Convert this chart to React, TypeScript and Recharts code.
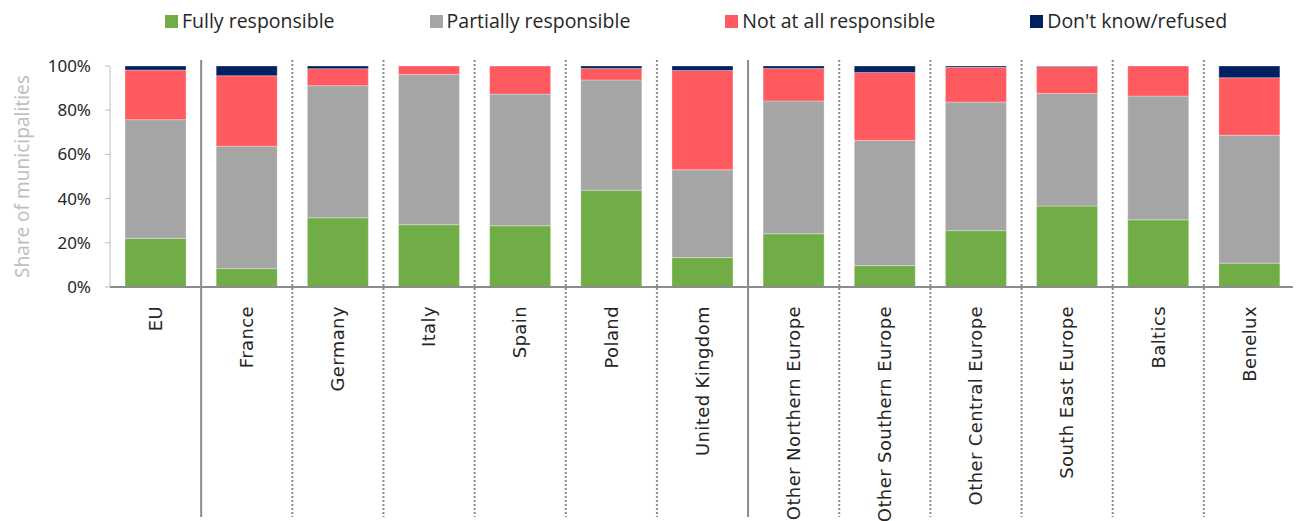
import { BarChart, Bar, XAxis, YAxis, Legend } from "recharts";

const regions = [
  "EU",
  "France",
  "Germany",
  "Italy",
  "Spain",
  "Poland",
  "United Kingdom",
  "Other Northern Europe",
  "Other Southern Europe",
  "Other Central Europe",
  "South East Europe",
  "Baltics",
  "Benelux",
];

const fully = [22, 8.3, 31.3, 28.2, 27.7, 43.8, 13.3, 24.1, 9.7, 25.5, 36.6, 30.4, 10.8];
const partially = [53.7, 55.4, 59.8, 68, 59.6, 49.9, 39.7, 60.1, 56.6, 58.2, 51, 56, 57.9];
const notAtAll = [22.5, 31.9, 7.7, 3.8, 12.7, 5.2, 45, 14.7, 30.8, 15.7, 12.2, 13.6, 26];
const dontKnow = [1.8, 4.4, 1.2, 0, 0, 1.1, 2, 1.1, 2.9, 0.6, 0.2, 0, 5.3];

// divider drawn on the left side of each category
const dividerBefore = [
  "none",
  "solid",
  "dotted",
  "dotted",
  "dotted",
  "dotted",
  "dotted",
  "solid",
  "dotted",
  "dotted",
  "dotted",
  "dotted",
  "dotted",
];

const yTicks = [0, 20, 40, 60, 80, 100];

const series = [
  { key: "fully", name: "Fully responsible", color: "#70AD47" },
  { key: "partially", name: "Partially responsible", color: "#A5A5A5" },
  { key: "notAtAll", name: "Not at all responsible", color: "#FF5A5F" },
  { key: "dontKnow", name: "Don't know/refused", color: "#002060" },
];

const data = regions.map((region, i) => ({
  region,
  fully: fully[i],
  partially: partially[i],
  notAtAll: notAtAll[i],
  dontKnow: dontKnow[i],
}));

const RegionTick = (props: any) => {
  const { x, y, payload, index } = props;
  const kind = dividerBefore[index];
  const bx = x - (payload.offset ?? 0);
  return (
    <g>
      {kind !== "none" && (
        <line
          x1={bx}
          x2={bx}
          y1={y - 229}
          y2={y + 228}
          stroke="#8c8c8c"
          strokeWidth={2}
          strokeDasharray={kind === "dotted" ? "2 2" : undefined}
        />
      )}
      <text
        x={x}
        y={y + 17}
        transform={`rotate(-90, ${x}, ${y + 17})`}
        textAnchor="end"
        dy="0.35em"
        fill="#262626"
        style={{
          fontFamily: "'DejaVu Sans', Verdana, sans-serif",
          fontSize: 18,
          letterSpacing: 0.4,
        }}
      >
        {payload.value}
      </text>
    </g>
  );
};

const renderLegend = () => (
  <div
    style={{
      display: "flex",
      height: 36,
      paddingLeft: 157,
      gap: 95,
      boxSizing: "border-box",
      alignItems: "flex-start",
      fontFamily: "'Open Sans', sans-serif",
      fontSize: 19.5,
      lineHeight: "26px",
      color: "#262626",
      whiteSpace: "nowrap",
    }}
  >
    {series.map((s) => (
      <div key={s.key} style={{ display: "flex", alignItems: "center", flexShrink: 0 }}>
        <span style={{ width: 13, height: 13, background: s.color, marginRight: 4 }} />
        <span>{s.name}</span>
      </div>
    ))}
  </div>
);

export default function App() {
  return (
    <BarChart
      width={1293}
      height={513}
      data={data}
      margin={{ top: 22, right: 6, left: 0, bottom: 0 }}
      barCategoryGap="16.5%"
      style={{ fontFamily: "'Noto Sans', sans-serif" }}
    >
      <Legend
        verticalAlign="top"
        content={renderLegend}
        wrapperStyle={{ left: 0, top: 0, width: 1293 }}
      />
      <XAxis
        dataKey="region"
        interval={0}
        height={234}
        tickSize={0}
        tickLine={false}
        axisLine={{ stroke: "#8c8c8c", strokeWidth: 2 }}
        tick={<RegionTick />}
      />
      <YAxis
        width={102}
        domain={[0, 100]}
        ticks={yTicks}
        tickFormatter={(v) => `${v}%`}
        axisLine={{ stroke: "#bfbfbf" }}
        tickLine={{ stroke: "#bfbfbf" }}
        tickSize={5}
        tickMargin={14}
        tick={{ fill: "#262626", fontSize: 17 }}
        label={{
          value: "Share of municipalities",
          angle: -90,
          position: "insideLeft",
          offset: 0,
          dx: 14,
          style: { textAnchor: "middle", fill: "#bfbfbf", fontSize: 19 },
        }}
      />
      {series.map((s) => (
        <Bar
          key={s.key}
          dataKey={s.key}
          name={s.name}
          stackId="a"
          fill={s.color}
          stroke="#ffffff"
          strokeOpacity={0.6}
          strokeWidth={0.5}
          isAnimationActive={false}
        />
      ))}
    </BarChart>
  );
}
